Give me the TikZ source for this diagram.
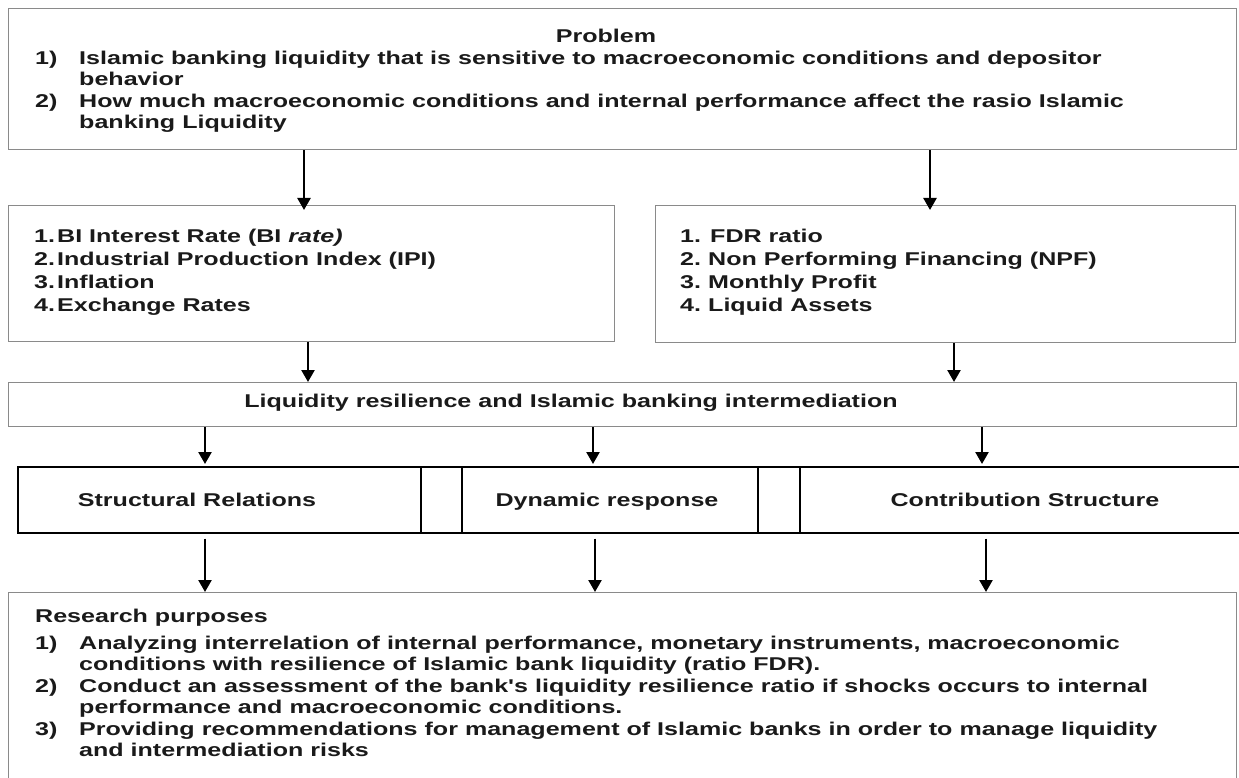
\documentclass[tikz,border=0pt]{standalone}
\usepackage{fontspec}
\setmainfont{Liberation Sans}[FakeStretch=1.355, Ligatures=TeXOff]
\usetikzlibrary{arrows.meta}
\definecolor{boxgrey}{HTML}{8A8A8A}
\definecolor{txt}{HTML}{1A1A1A}
\tikzset{
  gbox/.style={draw=boxgrey, line width=1.4pt, anchor=north west, inner sep=0pt},
  rowbox/.style={draw=black, line width=1.6pt, anchor=north west, inner sep=0pt},
  arr/.style={draw=black, line width=2.4pt, -{Triangle[width=13pt,length=12pt]}},
  tl/.style={anchor=base west, inner sep=0pt, text=txt, font=\fontsize{18.5}{21}\selectfont\bfseries},
  tc/.style={anchor=base, inner sep=0pt, text=txt, font=\fontsize{18.5}{21}\selectfont\bfseries}
}
\begin{document}
\begin{tikzpicture}[x=1pt,y=-1pt]
\clip (0,0) rectangle (1239,778);
\fill[white] (0,0) rectangle (1239,778);
% boxes
\node[gbox, minimum width=1228pt, minimum height=141pt] (top) at (8,8) {};
\node[gbox, minimum width=606pt, minimum height=136pt] (lbox) at (8,205) {};
\node[gbox, minimum width=580pt, minimum height=137pt] (rbox) at (655,205) {};
\node[gbox, minimum width=1228pt, minimum height=44pt] (mid) at (8,382) {};
\node[rowbox, minimum width=403pt, minimum height=66pt] (sr) at (17,466) {};
\node[rowbox, minimum width=41pt, minimum height=66pt] (g1) at (420,466) {};
\node[rowbox, minimum width=296pt, minimum height=66pt] (dr) at (461,466) {};
\node[rowbox, minimum width=42pt, minimum height=66pt] (g2) at (757,466) {};
\node[rowbox, minimum width=460pt, minimum height=66pt] (cs) at (799,466) {};
\node[gbox, minimum width=1228pt, minimum height=200pt] (bot) at (8,592) {};
% top text
\node[tc] (t0) at (606,43) {Problem};
\node[tl] (t1n) at (35,64.5) {1)};
\node[tl] (t1) at (79,64.5) {Islamic banking liquidity that is sensitive to macroeconomic conditions and depositor};
\node[tl] (t1b) at (79,86) {behavior};
\node[tl] (t2n) at (35,107.5) {2)};
\node[tl] (t2) at (79,107.5) {How much macroeconomic conditions and internal performance affect the rasio Islamic};
\node[tl] (t2b) at (79,129) {banking Liquidity};
% left box text
\node[tl] (l1n) at (34,242) {1.};
\node[tl] (l1) at (57,242) {BI Interest Rate (BI \textit{rate)}};
\node[tl] (l2n) at (34,265) {2.};
\node[tl] (l2) at (57,265) {Industrial Production Index (IPI)};
\node[tl] (l3n) at (34,288) {3.};
\node[tl] (l3) at (57,288) {Inflation};
\node[tl] (l4n) at (34,311) {4.};
\node[tl] (l4) at (57,311) {Exchange Rates};
% right box text
\node[tl] (r1n) at (680,242) {1.};
\node[tl] (r1) at (710,242) {FDR ratio};
\node[tl] (r2n) at (680,265) {2.};
\node[tl] (r2) at (708,265) {Non Performing Financing (NPF)};
\node[tl] (r3n) at (680,288) {3.};
\node[tl] (r3) at (708,288) {Monthly Profit};
\node[tl] (r4n) at (680,311) {4.};
\node[tl] (r4) at (708,311) {Liquid Assets};
% middle text
\node[tc] (mt) at (571,407) {Liquidity resilience and Islamic banking intermediation};
% row text
\node[tc] (srt) at (197,506) {Structural Relations};
\node[tc] (drt) at (607,506) {Dynamic response};
\node[tc] (cst) at (1025,506) {Contribution Structure};
% bottom text
\node[tl] (b0) at (35,622) {Research purposes};
\node[tl] (b1n) at (35,649) {1)};
\node[tl] (b1) at (79,649) {Analyzing interrelation of internal performance, monetary instruments, macroeconomic};
\node[tl] (b1b) at (79,670) {conditions with resilience of Islamic bank liquidity (ratio FDR).};
\node[tl] (b2n) at (35,692) {2)};
\node[tl] (b2) at (79,692) {Conduct an assessment of the bank's liquidity resilience ratio if shocks occurs to internal};
\node[tl] (b2b) at (79,713) {performance and macroeconomic conditions.};
\node[tl] (b3n) at (35,735) {3)};
\node[tl] (b3) at (79,735) {Providing recommendations for management of Islamic banks in order to manage liquidity};
\node[tl] (b3b) at (79,756) {and intermediation risks};
% arrows
\draw[arr] (top.south -| 304,0) -- ([yshift=-5pt]lbox.north -| 304,0);
\draw[arr] (top.south -| 930,0) -- ([yshift=-5pt]rbox.north -| 930,0);
\draw[arr] (lbox.south -| 308,0) -- (mid.north -| 308,0);
\draw[arr] (rbox.south -| 954,0) -- (mid.north -| 954,0);
\draw[arr] (mid.south -| 205,0) -- ([yshift=2pt]sr.north -| 205,0);
\draw[arr] (mid.south -| 593,0) -- ([yshift=2pt]dr.north -| 593,0);
\draw[arr] (mid.south -| 982,0) -- ([yshift=2pt]cs.north -| 982,0);
\draw[arr] ([yshift=-5pt]sr.south -| 205,0) -- (bot.north -| 205,0);
\draw[arr] ([yshift=-5pt]dr.south -| 595,0) -- (bot.north -| 595,0);
\draw[arr] ([yshift=-5pt]cs.south -| 986,0) -- (bot.north -| 986,0);
\end{tikzpicture}
\end{document}
